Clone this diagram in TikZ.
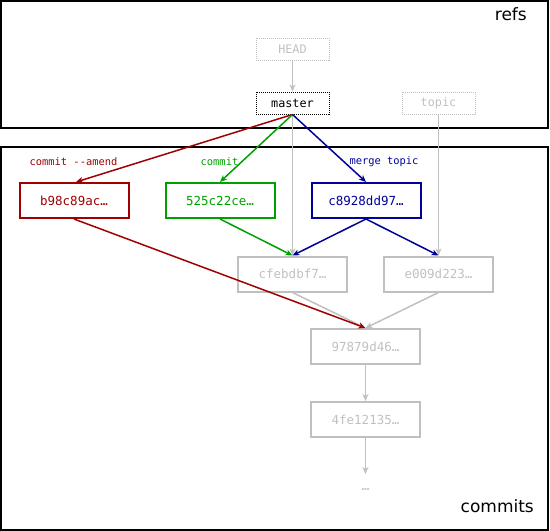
\documentclass[tikz,border=0pt]{standalone}
\usepackage{fontspec}
\setmainfont{DejaVu Sans}
\newfontfamily\monofont{DejaVu Sans Mono}
\usetikzlibrary{arrows.meta}
\definecolor{cred}{RGB}{160,0,0}
\definecolor{cgreen}{RGB}{0,160,0}
\definecolor{cblue}{RGB}{0,0,155}
\definecolor{cgray}{RGB}{192,192,192}
\begin{document}
\begin{tikzpicture}[x=1pt,y=-1pt,
  frame/.style={draw=black,line width=2pt},
  refbox/.style={draw,densely dotted,line width=1pt,minimum width=73pt,minimum height=22pt,inner sep=0pt,font=\monofont\fontsize{11.8}{11.8}\selectfont},
  commitbox/.style={draw,line width=2pt,minimum width=109pt,minimum height=35pt,inner sep=0pt,font=\monofont\fontsize{12.5}{12.5}\selectfont},
  oplabel/.style={font=\monofont\fontsize{10.4}{10.4}\selectfont,inner sep=0pt},
  edge/.style={line width=1.5pt,-{Stealth[length=7pt,width=6pt,inset=2pt]}},
  title/.style={font=\fontsize{17}{17}\selectfont,inner sep=0pt}]
\useasboundingbox (0,0) rectangle (550,531);
\draw[frame] (1,1) rectangle (548,128);
\draw[frame] (1,147) rectangle (548,530);
\node[title,anchor=east] (refs) at (527,14) {refs};
\node[title,anchor=east] (commits) at (534,506) {commits};
% refs
\node[refbox,draw=cgray,text=cgray] (head) at (292.5,49) {HEAD};
\node[refbox,draw=black] (master) at (292.5,103) {master};
\node[refbox,draw=cgray,text=cgray] (topic) at (438.5,103) {topic};
% commits
\node[commitbox,draw=cred,text=cred] (b98) at (74,200.5) {b98c89ac…};
\node[commitbox,draw=cgreen,text=cgreen] (c525) at (220,200.5) {525c22ce…};
\node[commitbox,draw=cblue,text=cblue] (c892) at (366,200.5) {c8928dd97…};
\node[commitbox,draw=cgray,text=cgray] (cfe) at (292.5,274) {cfebdbf7…};
\node[commitbox,draw=cgray,text=cgray] (e009) at (438.5,274) {e009d223…};
\node[commitbox,draw=cgray,text=cgray] (c978) at (365.5,346.5) {97879d46…};
\node[commitbox,draw=cgray,text=cgray] (c4fe) at (365.5,419.5) {4fe12135…};
\node[font=\monofont\fontsize{13}{13}\selectfont,text=cgray,inner sep=0pt] (dots) at (365.5,490) {…};
\coordinate (dotstop) at (365.5,474);
% labels
\node[oplabel,text=cred] (lamend) at (73.5,162) {commit --amend};
\node[oplabel,text=cgreen] (lcommit) at (219.5,162) {commit};
\node[oplabel,text=cblue] (lmerge) at (384,162) {merge topic};
% edges
\draw[edge,cgray] (head) -- (master);
\draw[edge,cgray] (master.south) -- (cfe.north);
\draw[edge,cgray] (topic.south) -- (e009.north);
\draw[edge,cgray] (cfe.south) -- (c978.north);
\draw[edge,cgray] (e009.south) -- (c978.north);
\draw[edge,cgray] (c978) -- (c4fe);
\draw[edge,cgray] (c4fe) -- (dotstop);
\draw[edge,cred] (master.south) -- ([xshift=2pt]b98.north);
\draw[edge,cgreen] (master.south) -- (c525.north);
\draw[edge,cblue] (master.south) -- (c892.north);
\draw[edge,cgreen] (c525.south) -- (cfe.north);
\draw[edge,cblue] (c892.south) -- (cfe.north);
\draw[edge,cblue] (c892.south) -- (e009.north);
\draw[edge,cred] (b98.south) -- (c978.north);
\end{tikzpicture}
\end{document}
